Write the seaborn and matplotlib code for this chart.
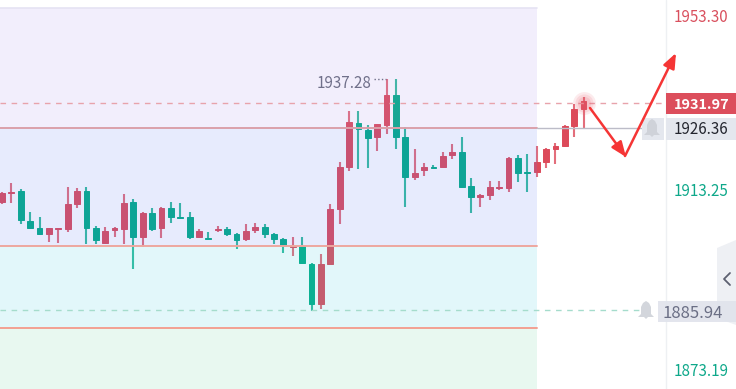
import numpy as np
import pandas as pd
import matplotlib
matplotlib.use("Agg")
import matplotlib.pyplot as plt
import seaborn as sns
from matplotlib.patches import Polygon, Rectangle

opens = [1909.92, 1911.92, 1912.36, 1905.69, 1904.14, 1902.80, 1903.92, 1903.92, 1909.47, 1912.36,
         1904.14, 1900.80, 1903.69, 1903.92, 1909.92, 1902.14, 1907.47, 1904.14, 1908.58, 1906.58,
         1906.58, 1902.14, 1901.92, 1903.69, 1903.92, 1902.80, 1901.69, 1903.69, 1904.36, 1902.80,
         1901.69, 1899.92, 1900.14, 1896.14, 1887.25, 1896.14, 1908.36, 1917.69, 1927.47, 1925.92,
         1924.36, 1927.03, 1933.69, 1924.36, 1915.47, 1917.03, 1917.69, 1917.69, 1920.36, 1921.03,
         1913.47, 1911.03, 1911.47, 1913.03, 1913.03, 1919.69, 1916.58, 1916.58, 1918.80, 1921.69,
         1922.36, 1926.80, 1930.58]
closes = [1911.92, 1912.14, 1905.92, 1904.14, 1902.80, 1904.14, 1904.14, 1909.47, 1912.36, 1904.14,
          1901.47, 1903.47, 1904.14, 1909.69, 1902.14, 1907.47, 1903.92, 1908.58, 1906.58, 1906.36,
          1902.14, 1903.47, 1901.69, 1903.92, 1902.80, 1901.47, 1903.47, 1904.36, 1902.80, 1901.69,
          1900.14, 1900.14, 1896.36, 1887.25, 1896.14, 1908.36, 1917.69, 1927.69, 1926.14, 1924.14,
          1927.25, 1933.69, 1924.36, 1915.47, 1916.36, 1917.69, 1917.47, 1920.14, 1921.03, 1913.25,
          1911.03, 1911.47, 1913.25, 1913.25, 1919.69, 1916.36, 1916.36, 1918.80, 1921.69, 1922.36,
          1926.80, 1930.58, 1932.36]
highs = [1912.14, 1914.14, 1912.80, 1907.69, 1906.58, 1904.14, 1904.14, 1913.25, 1913.03, 1913.25,
         1904.58, 1904.36, 1904.36, 1911.69, 1910.58, 1907.69, 1908.58, 1908.80, 1909.92, 1909.69,
         1907.69, 1903.92, 1903.25, 1904.58, 1904.36, 1903.03, 1905.03, 1905.25, 1905.03, 1903.03,
         1901.92, 1902.14, 1902.14, 1896.36, 1898.36, 1909.47, 1918.80, 1930.14, 1930.14, 1927.03,
         1927.25, 1937.28, 1937.28, 1926.58, 1921.69, 1918.58, 1918.14, 1921.03, 1922.80, 1924.36,
         1915.25, 1911.69, 1914.58, 1914.58, 1919.92, 1920.36, 1920.58, 1922.36, 1921.92, 1923.03,
         1927.03, 1931.69, 1933.25]
lows = [1909.47, 1909.69, 1905.03, 1903.92, 1902.58, 1901.03, 1900.80, 1903.25, 1908.58, 1900.58,
        1900.58, 1900.58, 1902.14, 1900.58, 1895.03, 1899.92, 1903.47, 1901.92, 1905.25, 1906.14,
        1901.69, 1901.92, 1901.69, 1903.25, 1902.36, 1899.47, 1901.25, 1903.03, 1901.92, 1900.58,
        1898.58, 1897.92, 1896.14, 1885.69, 1886.14, 1896.14, 1905.03, 1916.80, 1917.25, 1917.47,
        1921.25, 1925.03, 1921.69, 1908.80, 1914.80, 1915.69, 1917.47, 1917.69, 1919.47, 1913.03,
        1907.47, 1908.80, 1910.36, 1912.58, 1912.14, 1914.36, 1912.14, 1915.47, 1917.47, 1918.36,
        1922.14, 1924.36, 1926.36]

band_edges = [1926.36, 1900.14, 1881.92]
band_colors = ["#a88eeb", "#5f7af8", "#3ecae4", "#66d09b"]
last_price = 1931.97
alert_price = 1926.36
low_alert = 1885.94
peak_price = 1937.28

RED = "#dc4a5a"
GREEN = "#01ac85"
W, H = 736, 389


def px(x, y):
    return x / W, 1 - y / H


sns.set_theme(style="white")
plt.rcParams["font.family"] = ["Noto Sans CJK SC", "DejaVu Sans"]

df = pd.DataFrame({"i": range(len(opens)), "open": opens, "close": closes, "high": highs, "low": lows})
df["top"] = df[["open", "close"]].max(axis=1)
df["bottom"] = df[["open", "close"]].min(axis=1)
df["body"] = (df["top"] - df["bottom"]).clip(lower=0.3)
df["up"] = df["close"] >= df["open"]

fig = plt.figure(figsize=(W / 100, H / 100), dpi=100)
ax = fig.add_axes([0, 0, 1, 1])

# wicks + bodies
for is_up, color in [(True, RED), (False, GREEN)]:
    part = df[df["up"] == is_up]
    ax.vlines(part["i"], part["low"], part["high"], color=color, lw=1.5, alpha=0.8, zorder=2)
    sns.barplot(data=part, x="i", y="body", bottom=part["bottom"], native_scale=True, width=0.62,
                color=color, saturation=1, errorbar=None, ax=ax, zorder=3,
                edgecolor=color, linewidth=0.7)

ax.set_xlim(-2 / 9.38, -2 / 9.38 + W / 9.38)
ax.set_ylim(1926.36 - (H - 128) / 4.5, 1926.36 + 128 / 4.5)
ax.axis("off")

# translucent bands sit over the candles
x_end = 537 / W
tops = [1926.36 + (128 - 8) / 4.5] + band_edges
bots = band_edges + [ax.get_ylim()[0]]
for t, b, c in zip(tops, bots, band_colors):
    ax.axhspan(b, t, xmin=0, xmax=x_end, color=c, alpha=0.15, lw=0, zorder=4)
ax.axhline(tops[0], color="#e5e3f3", xmax=x_end, lw=1.2, zorder=5)

# price lines
ax.axhline(last_price, xmax=666 / W, color="#e8a3ab", lw=1, ls=(0, (4, 4)), zorder=5)
ax.axhline(alert_price, xmax=x_end, color="#dba0aa", lw=1.4, zorder=5)
ax.axhline(alert_price, xmin=x_end, xmax=650 / W, color="#bcbcc8", lw=1, zorder=5)
ax.axhline(band_edges[1], xmax=x_end, color="#eea79f", lw=1.4, zorder=5)
ax.axhline(band_edges[2], xmax=x_end, color="#f3a093", lw=1.4, zorder=5)
ax.axhline(low_alert, xmax=650 / W, color="#a5dccc", lw=1, ls=(0, (4, 4)), zorder=5)
ax.axvline(666 / 9.38 - 2 / 9.38, color="#eef0f3", lw=1, zorder=1)
ax.hlines(peak_price, 39.7, 40.9, color="#70708a", lw=1, ls=":", zorder=6)

# pulse on the last candle
for s, a in [(270, 0.12), (170, 0.14), (90, 0.16)]:
    ax.scatter([len(opens) - 1], [last_price], s=s, color="#e8606e", alpha=a, lw=0, zorder=6)

tr = ax.transAxes
# right-hand tab
ax.add_patch(Polygon([px(717, 248), px(736, 240), px(736, 325), px(717, 318)], transform=tr,
                     color="#eef0f4", lw=0, zorder=1))
ax.plot(*zip(px(730, 273), px(724, 279), px(730, 285)), transform=tr, color="#5c6070", lw=1.3, zorder=8)

# price tags
ax.add_patch(Rectangle(px(666, 114), 70 / W, 21 / H, transform=tr, color="#dc4e5c", lw=0, zorder=7))
ax.add_patch(Rectangle(px(666, 140), 70 / W, 22 / H, transform=tr, color="#e4e7ee", lw=0, zorder=7))
ax.add_patch(Rectangle(px(642, 140), 22 / W, 22 / H, transform=tr, color="#e4e7ee", lw=0, zorder=7))
ax.add_patch(Rectangle(px(658, 322), 78 / W, 21 / H, transform=tr, color="#e0e3ec", alpha=0.9, lw=0, zorder=7))


# bells
def bell(cx, cy, color):
    pts = [(-8, 7), (-5, 4), (-5, -3), (-3, -7), (0, -9), (3, -7), (5, -3), (5, 4), (8, 7), (2, 7), (0, 9), (-2, 7)]
    ax.add_patch(Polygon([px(cx + a, cy + b) for a, b in pts], transform=tr, color=color, lw=0, zorder=8))


bell(652, 128, "#cfd2d9")
bell(646, 310, "#d3d6dc")

labels = [("1953.30", 674, 18, "#d9505e", "normal", 10.9),
          ("1931.97", 674, 105, "white", "bold", 10.4),
          ("1926.36", 674, 129, "#23252e", "normal", 10.9),
          ("1913.25", 674, 191, "#0ea88a", "normal", 10.9),
          ("1885.94", 662, 313, "#6b6f85", "normal", 12),
          ("1873.19", 674, 372, "#0ea88a", "normal", 10.9),
          ("1937.28", 317, 84, "#70708a", "normal", 10.9)]
for txt, x, y, c, w, size in labels:
    ax.text(*px(x, y), txt, transform=tr, color=c, fontsize=size, fontweight=w, ha="left", va="center", zorder=9)

# drawn arrows
for start, end in [((590, 108), (626, 157)), ((625, 156), (676, 53))]:
    ax.annotate("", xy=px(*end), xytext=px(*start), xycoords=tr, textcoords=tr, zorder=10,
                arrowprops=dict(arrowstyle="-|>,head_length=0.75,head_width=0.3", color="#f53535", lw=1.8,
                                shrinkA=0, shrinkB=0))

fig.savefig("out.png", dpi=100)
